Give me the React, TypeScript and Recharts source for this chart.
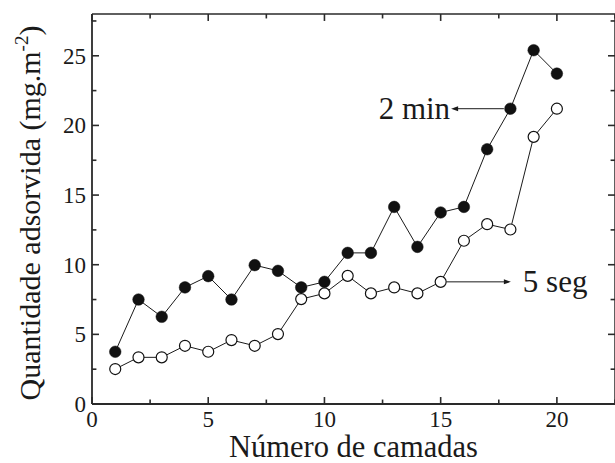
import { LineChart, Line, XAxis, YAxis, ReferenceLine, Label } from "recharts";

// Número de camadas
const camadas = [1, 2, 3, 4, 5, 6, 7, 8, 9, 10, 11, 12, 13, 14, 15, 16, 17, 18, 19, 20];
// 2 min (filled circles)
const doisMin = [3.75, 7.5, 6.26, 8.37, 9.18, 7.5, 9.97, 9.56, 8.37, 8.77, 10.85, 10.85, 14.15, 11.28, 13.75, 14.15, 18.29, 21.2, 25.4, 23.72];
// 5 seg (open circles)
const cincoSeg = [2.51, 3.35, 3.35, 4.18, 3.75, 4.59, 4.18, 5.02, 7.53, 7.94, 9.2, 7.94, 8.37, 7.94, 8.77, 11.72, 12.91, 12.53, 19.18, 21.2];

const xTicks = [0, 2.5, 5, 7.5, 10, 12.5, 15, 17.5, 20, 22.5];
const yTicks = [0, 2.5, 5, 7.5, 10, 12.5, 15, 17.5, 20, 22.5, 25, 27.5];
const X_MAX = 22.5;
const Y_MAX = 28;

const data = camadas.map((c, i) => ({ c, a: doisMin[i], b: cincoSeg[i] }));

const FONT = '"Liberation Serif", "Times New Roman", Times, serif';
const INK = "#1a1a1a";
const AXIS = "#2a2a2a";
const txt = { fontFamily: FONT, fill: INK };

const isMajor = (v: number) => v % 5 === 0;

const BottomLabel = (p: any) => {
    const { x, y, payload } = p;
    if (!isMajor(payload.value) || payload.value > 20) return <g />;
    return (
        <text x={x} y={y + 23} textAnchor="middle" fontSize={23} style={txt}>
            {payload.value}
        </text>
    );
};

const LeftLabel = (p: any) => {
    const { x, y, payload } = p;
    if (!isMajor(payload.value)) return <g />;
    return (
        <text x={x - 6} y={y + 8} textAnchor="end" fontSize={23} style={txt}>
            {payload.value}
        </text>
    );
};

const YTitle = ({ viewBox }: any) => {
    const cx = 40;
    const cy = viewBox.y + viewBox.height / 2 + 4;
    return (
        <text x={cx} y={cy} transform={`rotate(-90 ${cx} ${cy})`} textAnchor="middle" fontSize={30} style={txt}>
            Quantidade adsorvida (mg.m
            <tspan dy={-12} fontSize={19}>-2</tspan>
            <tspan dy={12}>)</tspan>
        </text>
    );
};

const XTitle = ({ viewBox }: any) => (
    <text x={viewBox.x + viewBox.width / 2} y={viewBox.y + 53} textAnchor="middle" fontSize={30.5} style={txt}>
        Número de camadas
    </text>
);

// arrow with a text at its head
const arrowShape = (label: string, side: "left" | "right") => (p: any) => {
    const { x1, y1, x2, y2 } = p;
    const dir = x2 > x1 ? 1 : -1;
    const head = `${x2},${y2} ${x2 - dir * 7},${y2 - 2.5} ${x2 - dir * 7},${y2 + 2.5}`;
    return (
        <g>
            <line x1={x1} y1={y1} x2={x2 - dir * 5} y2={y2} stroke={INK} strokeWidth={1} />
            <polygon points={head} fill={INK} />
            <text
                x={side === "left" ? x2 - 1 : x2 + 12}
                y={y2 + 10}
                textAnchor={side === "left" ? "end" : "start"}
                fontSize={31}
                style={txt}
            >
                {label}
            </text>
        </g>
    );
};

const yDois = doisMin[17];
const yCinco = cincoSeg[14];

// inward tick marks on all four sides (length in axis units)
const tickMarks = () => {
    const out: any[] = [];
    xTicks.forEach((t) => {
        const h = isMajor(t) ? 0.5 : 0.32;
        out.push({ k: `b${t}`, s: [{ x: t, y: 0 }, { x: t, y: h }] });
        out.push({ k: `t${t}`, s: [{ x: t, y: Y_MAX }, { x: t, y: Y_MAX - h }] });
    });
    yTicks.forEach((t) => {
        const w = isMajor(t) ? 0.3 : 0.19;
        out.push({ k: `l${t}`, s: [{ x: 0, y: t }, { x: w, y: t }] });
        out.push({ k: `r${t}`, s: [{ x: X_MAX, y: t }, { x: X_MAX - w, y: t }] });
    });
    return out;
};

export default function App() {
    return (
        <div style={{ position: "absolute", left: 0, top: 0, width: 615, height: 463, overflow: "hidden", background: "#fff", fontFamily: FONT }}>
            <LineChart width={616} height={463} data={data} margin={{ top: 13, right: 0, bottom: 0, left: 0 }}>
                <XAxis
                    xAxisId="b"
                    dataKey="c"
                    type="number"
                    domain={[0, X_MAX]}
                    ticks={xTicks}
                    height={59}
                    tickSize={0}
                    tickMargin={0}
                    tickLine={false}
                    tick={(p: any) => <BottomLabel {...p} />}
                    axisLine={{ stroke: AXIS, strokeWidth: 2 }}
                    interval={0}
                >
                    <Label content={<XTitle />} />
                </XAxis>
                <XAxis
                    xAxisId="t"
                    orientation="top"
                    dataKey="c"
                    type="number"
                    domain={[0, X_MAX]}
                    height={1}
                    tickLine={false}
                    tick={false}
                    axisLine={{ stroke: AXIS, strokeWidth: 1.5 }}
                />
                <YAxis
                    yAxisId="l"
                    type="number"
                    domain={[0, Y_MAX]}
                    ticks={yTicks}
                    width={92}
                    tickSize={0}
                    tickMargin={0}
                    tickLine={false}
                    tick={(p: any) => <LeftLabel {...p} />}
                    axisLine={{ stroke: AXIS, strokeWidth: 1.8 }}
                    interval={0}
                >
                    <Label content={<YTitle />} />
                </YAxis>
                <YAxis
                    yAxisId="r"
                    orientation="right"
                    type="number"
                    domain={[0, Y_MAX]}
                    width={1}
                    tickLine={false}
                    tick={false}
                    axisLine={{ stroke: AXIS, strokeWidth: 1.5 }}
                />
                {tickMarks().map((m) => (
                    <ReferenceLine
                        key={m.k}
                        xAxisId="b"
                        yAxisId="l"
                        segment={m.s}
                        stroke={AXIS}
                        strokeWidth={1.6}
                        ifOverflow="visible"
                    />
                ))}
                <Line
                    xAxisId="b"
                    yAxisId="l"
                    dataKey="b"
                    stroke={INK}
                    strokeWidth={1}
                    dot={{ r: 5.5, fill: "#fff", stroke: "#111", strokeWidth: 1.2 }}
                    isAnimationActive={false}
                />
                <Line
                    xAxisId="b"
                    yAxisId="l"
                    dataKey="a"
                    stroke={INK}
                    strokeWidth={1}
                    dot={{ r: 5.8, fill: "#111", stroke: "#111", strokeWidth: 0.5 }}
                    isAnimationActive={false}
                />
                <ReferenceLine
                    xAxisId="b"
                    yAxisId="l"
                    segment={[{ x: 17.72, y: yDois }, { x: 15.45, y: yDois }]}
                    shape={arrowShape("2 min", "left")}
                />
                <ReferenceLine
                    xAxisId="b"
                    yAxisId="l"
                    segment={[{ x: 15.25, y: yCinco }, { x: 18.02, y: yCinco }]}
                    shape={arrowShape("5 seg", "right")}
                />
            </LineChart>
        </div>
    );
}
